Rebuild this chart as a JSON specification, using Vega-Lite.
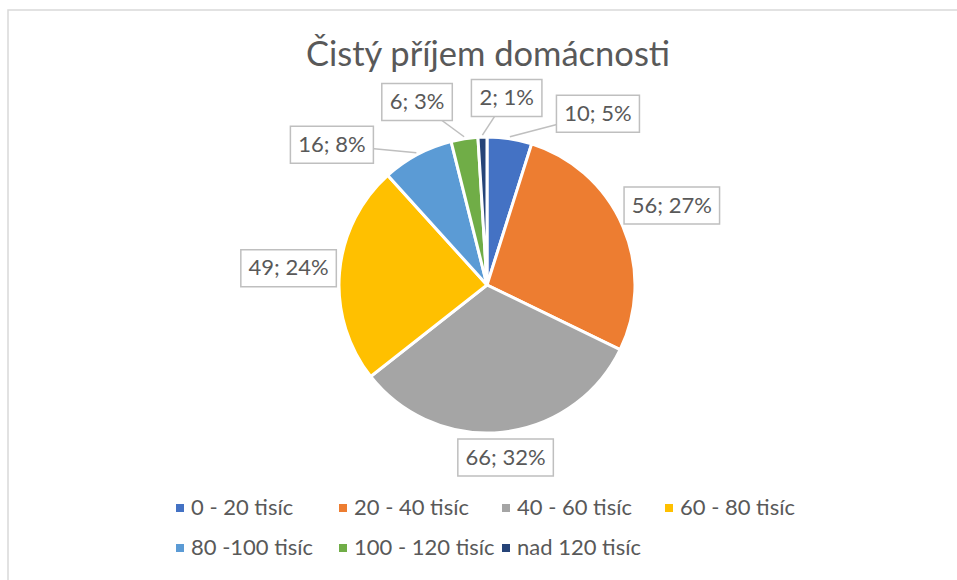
{
  "$schema": "https://vega.github.io/schema/vega-lite/v6.json",
  "width": 960,
  "height": 580,
  "autosize": {"type": "none"},
  "padding": {"left": 8, "top": 10, "right": 0, "bottom": 0},
  "background": "white",
  "config": {
    "view": {"stroke": "#D9D9D9", "strokeWidth": 1.5},
    "font": "Lato",
    "legend": {
      "orient": "none",
      "legendX": 161,
      "legendY": 487,
      "direction": "horizontal",
      "columns": 4,
      "gridAlign": "all",
      "columnPadding": -1,
      "rowPadding": 18,
      "symbolType": "square",
      "symbolSize": 64,
      "symbolStrokeWidth": 0,
      "labelFont": "Lato",
      "labelFontSize": 22,
      "labelColor": "#595959",
      "labelOffset": 0,
      "padding": 0
    }
  },
  "title": {
    "text": "Čistý příjem domácnosti",
    "font": "Lato",
    "fontSize": 34.5,
    "fontWeight": "normal",
    "color": "#595959",
    "anchor": "middle",
    "offset": 0,
    "dx": 0,
    "dy": 63
  },
  "data": {
    "values": [
      {"kategorie": "0 - 20 tisíc", "pocet": 10, "poradi": 1},
      {"kategorie": "20 - 40 tisíc", "pocet": 56, "poradi": 2},
      {"kategorie": "40 - 60 tisíc", "pocet": 66, "poradi": 3},
      {"kategorie": "60 - 80 tisíc", "pocet": 49, "poradi": 4},
      {"kategorie": "80 -100 tisíc", "pocet": 16, "poradi": 5},
      {"kategorie": "100 - 120 tisíc", "pocet": 6, "poradi": 6},
      {"kategorie": "nad 120 tisíc", "pocet": 2, "poradi": 7}
    ]
  },
  "transform": [
    {"joinaggregate": [{"op": "sum", "field": "pocet", "as": "total"}]},
    {"window": [{"op": "sum", "field": "pocet", "as": "cum"}], "sort": [{"field": "poradi", "order": "ascending"}], "frame": [null, 0]},
    {"calculate": "datum.pocet / datum.total", "as": "share"},
    {"calculate": "(datum.cum - datum.pocet / 2) / datum.total * 2 * PI", "as": "mid"},
    {"calculate": "datum.pocet + '; ' + format(datum.share, '.0%')", "as": "label"},
    {"calculate": "datum.share < 0.1 ? 1 : 0", "as": "small"},
    {"calculate": "datum.mid > PI ? datum.mid - 2 * PI : datum.mid", "as": "smid"},
    {"window": [{"op": "rank", "as": "rk"}, {"op": "count", "as": "n"}, {"op": "mean", "field": "smid", "as": "meanMid"}], "groupby": ["small"], "sort": [{"field": "smid", "order": "descending"}], "frame": [null, null]},
    {"calculate": "datum.small == 1 ? datum.meanMid + 0.47 * ((datum.n + 1) / 2 - datum.rk) : datum.mid", "as": "la"},
    {"calculate": "6.25 * length(datum.label) + 4", "as": "hw"},
    {"calculate": "18.5", "as": "hh"},
    {"calculate": "(datum.small == 1 ? 166 : 150) + abs(sin(datum.la)) * datum.hw + abs(cos(datum.la)) * datum.hh", "as": "lr"},
    {"calculate": "datum.lr * sin(datum.la)", "as": "lx"},
    {"calculate": "datum.lr * cos(datum.la)", "as": "ly"},
    {"calculate": "150 * sin(datum.mid)", "as": "ex"},
    {"calculate": "150 * cos(datum.mid)", "as": "ey"},
    {"calculate": "datum.lx - datum.hw", "as": "bx1"},
    {"calculate": "datum.lx + datum.hw", "as": "bx2"},
    {"calculate": "datum.ly - datum.hh", "as": "by1"},
    {"calculate": "datum.ly + datum.hh", "as": "by2"}
  ],
  "layer": [
    {
      "mark": {"type": "arc", "outerRadius": 148, "stroke": "white", "strokeWidth": 3},
      "encoding": {
        "x": {"datum": 0, "type": "quantitative", "scale": {"domain": [-479, 481], "nice": false, "zero": false}, "axis": null},
        "y": {"datum": 0, "type": "quantitative", "scale": {"domain": [-305, 275], "nice": false, "zero": false}, "axis": null},
        "theta": {"field": "pocet", "type": "quantitative", "stack": true},
        "order": {"field": "poradi", "type": "quantitative", "sort": "ascending"},
        "color": {
          "field": "kategorie",
          "type": "nominal",
          "title": null,
          "scale": {
            "domain": ["0 - 20 tisíc", "20 - 40 tisíc", "40 - 60 tisíc", "60 - 80 tisíc", "80 -100 tisíc", "100 - 120 tisíc", "nad 120 tisíc"],
            "range": ["#4472C4", "#ED7D31", "#A5A5A5", "#FFC000", "#5B9BD5", "#70AD47", "#264478"]
          }
        }
      }
    },
    {
      "transform": [{"filter": "datum.small == 1"}],
      "mark": {"type": "rule", "stroke": "#BFBFBF", "strokeWidth": 1.5},
      "encoding": {
        "x": {"field": "ex", "type": "quantitative", "scale": {"domain": [-479, 481], "nice": false, "zero": false}, "axis": null},
        "y": {"field": "ey", "type": "quantitative", "scale": {"domain": [-305, 275], "nice": false, "zero": false}, "axis": null},
        "x2": {"field": "lx"},
        "y2": {"field": "ly"}
      }
    },
    {
      "mark": {"type": "rect", "fill": "white", "stroke": "#BFBFBF", "strokeWidth": 1.5},
      "encoding": {
        "x": {"field": "bx1", "type": "quantitative", "scale": {"domain": [-479, 481], "nice": false, "zero": false}, "axis": null},
        "x2": {"field": "bx2"},
        "y": {"field": "by1", "type": "quantitative", "scale": {"domain": [-305, 275], "nice": false, "zero": false}, "axis": null},
        "y2": {"field": "by2"}
      }
    },
    {
      "mark": {"type": "text", "font": "Lato", "fontSize": 22, "color": "#595959", "align": "center", "baseline": "middle"},
      "encoding": {
        "x": {"field": "lx", "type": "quantitative", "scale": {"domain": [-479, 481], "nice": false, "zero": false}, "axis": null},
        "y": {"field": "ly", "type": "quantitative", "scale": {"domain": [-305, 275], "nice": false, "zero": false}, "axis": null},
        "text": {"field": "label", "type": "nominal"}
      }
    }
  ]
}
